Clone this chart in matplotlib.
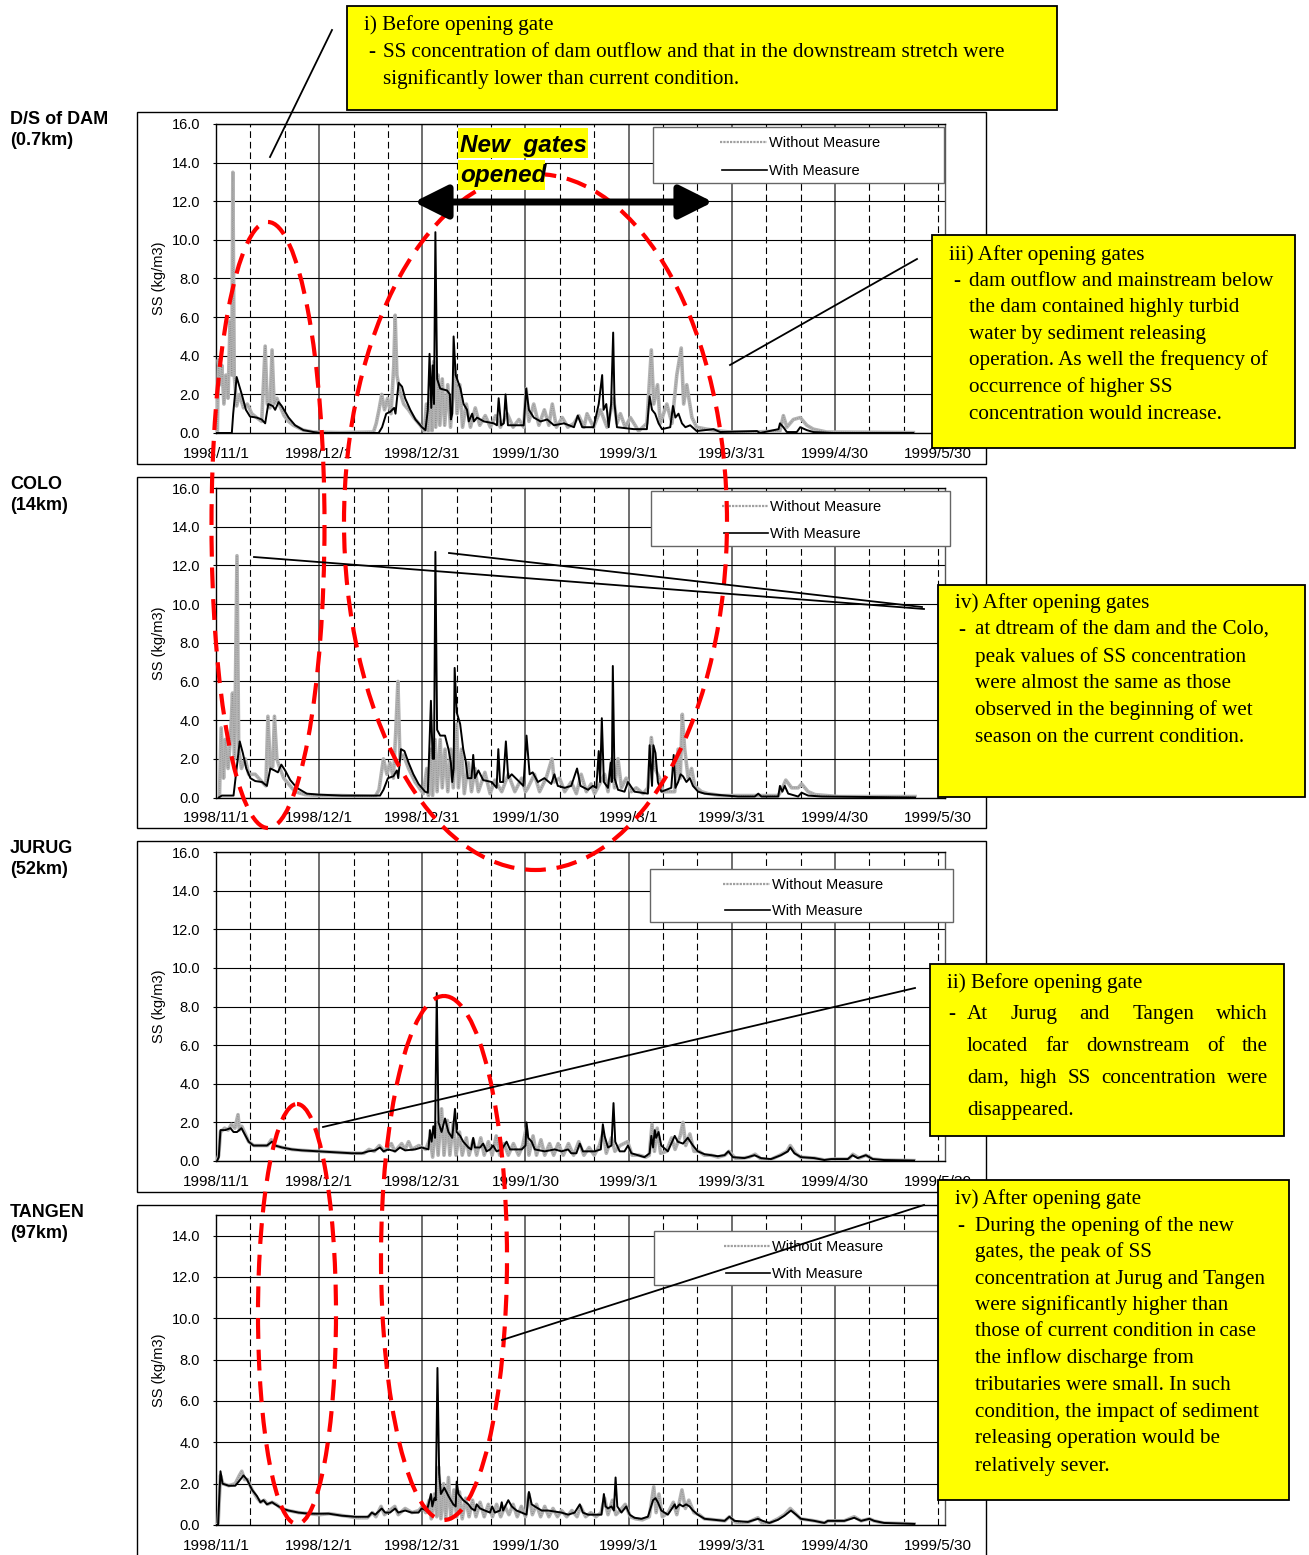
import matplotlib.pyplot as plt
from matplotlib.patches import Rectangle, Ellipse, FancyArrowPatch

plt.rcParams['font.family'] = ['Liberation Sans', 'DejaVu Sans']

# ---- data: (days since 1998/11/1, SS kg/m3) ----
tick_days = [0, 30, 60, 90, 120, 150, 180, 210]
tick_labels = ['1998/11/1', '1998/12/1', '1998/12/31', '1999/1/30',
               '1999/3/1', '1999/3/31', '1999/4/30', '1999/5/30']

dam_without = [
    (0.4, 0.0), (0.7, 3.8), (1.2, 2.5), (1.7, 3.5), (2.3, 1.5), (2.9, 3.0), (3.5, 1.8), (4.1, 5.8),
    (4.6, 3.0), (4.9, 13.5), (5.3, 3.0), (6.0, 1.4), (6.8, 2.0), (8.0, 1.3), (9.1, 1.5), (10.4, 1.0),
    (11.8, 0.8), (13.3, 0.6), (14.3, 4.5), (14.9, 1.5), (15.7, 1.3), (16.3, 4.3), (16.9, 1.5),
    (17.7, 1.8), (18.6, 1.4), (19.8, 0.9), (21.1, 0.6), (22.5, 0.4), (25.4, 0.15), (28.3, 0.05),
    (36.1, 0.02), (45.8, 0.05), (46.6, 0.5), (47.4, 1.2), (48.2, 2.0), (49.0, 1.2), (49.9, 1.8),
    (50.9, 1.0), (51.7, 3.5), (52.1, 6.1), (52.6, 3.0), (53.4, 2.2), (54.6, 1.5), (56.0, 1.2),
    (57.5, 0.8), (59.4, 0.4), (60.6, 0.1), (61.2, 1.5), (61.7, 0.1), (62.3, 2.0), (62.8, 0.1),
    (63.3, 3.7), (63.9, 0.3), (64.6, 3.0), (65.1, 0.4), (65.8, 2.8), (66.5, 0.4), (67.4, 2.5),
    (68.2, 0.3), (69.5, 3.5), (70.1, 1.0), (70.9, 2.5), (71.7, 0.3), (72.8, 1.5), (74.0, 0.3),
    (75.4, 1.3), (76.7, 0.4), (78.3, 0.9), (79.8, 0.3), (81.3, 0.9), (82.7, 0.3), (84.7, 1.0),
    (86.4, 0.3), (88.1, 0.7), (89.5, 0.3), (90.2, 2.3), (91.0, 0.6), (92.4, 1.5), (93.9, 0.4),
    (95.5, 1.2), (96.8, 0.4), (97.8, 1.5), (99.0, 0.3), (100.7, 0.8), (102.3, 0.3), (104.1, 0.5),
    (105.5, 0.9), (107.0, 0.3), (107.9, 1.0), (109.8, 0.3), (111.8, 1.2), (113.7, 0.3), (115.6, 1.8),
    (116.6, 0.5), (117.6, 1.0), (119.0, 0.3), (120.5, 0.8), (122.9, 0.1), (125.3, 0.5), (126.6, 4.3),
    (127.3, 1.5), (128.4, 2.5), (129.2, 0.5), (131.1, 1.5), (132.6, 0.5), (134.0, 3.0), (135.3, 4.4),
    (136.0, 1.5), (136.9, 2.5), (138.4, 0.8), (139.8, 0.3), (142.7, 0.2), (146.6, 0.1), (149.5, 0.05),
    (156.3, 0.05), (164.0, 0.1), (165.0, 0.9), (166.0, 0.3), (167.9, 0.7), (169.9, 0.8), (171.8, 0.4),
    (173.7, 0.2), (177.6, 0.05), (202.8, 0.02)]

dam_with = [
    (0.0, 0.0), (4.6, 0.0), (5.0, 1.0), (6.0, 2.9), (7.5, 2.0), (8.7, 1.2), (9.9, 0.85), (11.8, 0.8),
    (13.3, 0.7), (14.3, 0.5), (15.2, 1.5), (16.5, 1.4), (17.2, 1.2), (18.2, 1.6), (19.1, 1.4),
    (21.1, 0.8), (23.0, 0.4), (25.4, 0.15), (28.3, 0.05), (30.3, 0.0), (47.3, 0.0), (48.3, 0.3),
    (49.5, 1.0), (50.7, 1.1), (51.8, 1.3), (52.2, 1.0), (53.1, 2.6), (54.1, 2.4), (55.0, 1.8),
    (56.5, 1.2), (58.0, 0.7), (59.9, 0.3), (60.9, 0.15), (61.6, 1.2), (62.1, 4.1), (62.6, 1.3),
    (63.0, 3.5), (63.4, 1.5), (63.8, 10.4), (64.3, 2.8), (65.2, 2.3), (67.2, 2.2), (68.0, 2.0),
    (68.3, 0.7), (68.7, 1.0), (69.1, 5.0), (69.7, 3.0), (71.1, 2.3), (72.0, 1.5), (73.0, 1.2),
    (73.5, 0.6), (74.5, 1.0), (75.0, 0.6), (75.9, 0.8), (77.9, 0.6), (80.8, 0.5), (81.7, 0.4),
    (82.2, 1.8), (82.9, 0.4), (83.7, 0.5), (84.2, 2.0), (84.9, 0.4), (89.5, 0.4), (90.2, 2.3),
    (91.0, 1.2), (92.4, 0.8), (94.4, 0.6), (96.3, 0.7), (98.3, 0.4), (101.2, 0.5), (104.1, 0.3),
    (105.2, 0.9), (106.5, 0.3), (109.8, 0.3), (111.3, 1.5), (112.3, 3.0), (112.7, 1.2), (113.5, 1.5),
    (114.2, 0.3), (114.9, 1.5), (115.5, 5.2), (115.9, 1.5), (116.6, 0.3), (121.5, 0.2), (125.3, 0.2),
    (126.1, 1.9), (126.8, 1.2), (127.7, 1.0), (128.7, 0.5), (129.7, 0.2), (132.1, 0.3), (132.9, 1.4),
    (133.6, 0.8), (134.5, 1.0), (135.5, 0.5), (136.5, 0.3), (137.9, 0.4), (139.8, 0.1), (144.7, 0.2),
    (146.6, 0.05), (157.3, 0.1), (158.2, 0.0), (163.6, 0.2), (164.0, 0.5), (165.0, 0.3), (166.0, 0.05),
    (168.9, 0.05), (169.9, 0.3), (171.8, 0.15), (173.7, 0.05), (179.5, 0.0), (202.8, 0.0)]

colo_without = [
    (1.0, 0.0), (1.5, 3.6), (2.2, 1.0), (2.7, 3.0), (3.5, 1.5), (4.2, 3.0), (4.8, 5.4), (5.4, 2.0),
    (6.1, 12.5), (6.6, 2.5), (7.4, 1.5), (8.5, 2.0), (9.5, 1.2), (11.4, 1.2), (13.4, 0.8), (14.5, 0.6),
    (15.1, 4.2), (15.8, 1.5), (16.5, 1.6), (17.0, 4.2), (17.7, 2.0), (18.4, 1.6), (19.7, 1.0),
    (21.1, 0.7), (23.0, 0.3), (25.9, 0.15), (29.8, 0.1), (36.6, 0.1), (46.3, 0.05), (47.4, 0.4),
    (48.7, 2.0), (49.7, 1.2), (50.6, 1.8), (51.6, 1.0), (52.3, 3.5), (52.9, 6.0), (53.5, 2.0),
    (54.5, 2.2), (56.0, 1.5), (57.9, 0.8), (60.3, 0.2), (61.3, 1.5), (61.8, 0.1), (62.5, 2.5),
    (63.0, 0.1), (63.7, 3.0), (64.3, 0.3), (65.2, 3.0), (65.8, 0.5), (66.6, 2.5), (67.4, 0.3),
    (68.3, 2.5), (69.0, 0.5), (70.0, 3.8), (70.5, 0.5), (71.4, 2.5), (72.2, 0.2), (73.4, 1.8),
    (74.3, 0.3), (75.3, 1.5), (76.3, 0.3), (78.2, 1.3), (79.7, 0.2), (81.1, 0.9), (83.1, 0.3),
    (85.0, 1.2), (86.9, 0.3), (88.9, 1.0), (90.0, 0.3), (90.7, 0.5), (92.6, 1.2), (94.1, 0.3),
    (96.0, 1.0), (97.7, 2.0), (98.4, 0.8), (99.9, 1.0), (101.4, 0.3), (103.3, 0.8), (104.8, 0.2),
    (106.2, 1.2), (107.7, 0.3), (109.1, 0.7), (110.1, 0.2), (113.0, 1.2), (114.0, 0.3), (115.1, 2.0),
    (115.9, 0.5), (116.9, 2.0), (117.9, 0.5), (119.3, 1.0), (120.8, 0.3), (122.2, 0.5), (124.2, 0.2),
    (125.6, 0.5), (126.6, 3.1), (127.6, 1.5), (129.0, 1.0), (130.0, 0.3), (133.4, 0.3), (134.4, 2.5),
    (135.0, 1.0), (135.6, 4.3), (136.3, 2.5), (137.3, 1.0), (138.3, 1.5), (139.2, 0.6), (141.2, 0.3),
    (143.1, 0.2), (147.0, 0.1), (163.5, 0.1), (164.5, 0.4), (165.7, 0.9), (167.4, 0.5), (169.3, 0.5),
    (170.3, 0.7), (172.2, 0.3), (174.2, 0.15), (181.0, 0.05), (203.3, 0.05)]

colo_with = [
    (0.8, 0.0), (1.7, 0.1), (5.1, 0.1), (6.0, 1.5), (6.9, 2.9), (7.8, 2.3), (8.8, 1.5), (10.0, 1.0),
    (11.4, 0.85), (13.4, 0.8), (14.8, 0.6), (15.8, 1.5), (17.0, 1.4), (18.0, 1.3), (19.0, 1.7),
    (20.1, 1.4), (21.6, 0.9), (23.5, 0.5), (26.4, 0.2), (29.8, 0.15), (36.6, 0.1), (47.7, 0.1),
    (48.7, 0.4), (50.0, 1.0), (51.6, 1.1), (52.6, 1.4), (53.0, 1.0), (53.8, 2.5), (54.8, 2.4),
    (56.0, 1.8), (57.4, 1.2), (58.9, 0.7), (60.8, 0.3), (61.6, 0.25), (62.5, 5.0), (63.0, 2.0),
    (63.4, 2.0), (63.8, 12.7), (64.3, 3.5), (65.2, 3.2), (66.6, 3.2), (67.6, 2.5), (68.3, 1.8),
    (68.7, 0.8), (69.1, 1.5), (69.4, 6.7), (70.0, 4.4), (71.0, 3.8), (71.9, 2.5), (72.6, 1.9),
    (73.2, 1.0), (74.3, 1.0), (74.8, 2.2), (75.3, 1.0), (76.3, 1.4), (77.7, 0.9), (80.2, 0.8),
    (81.6, 0.5), (82.1, 2.5), (82.6, 0.8), (83.5, 0.8), (84.3, 2.9), (85.0, 1.0), (86.0, 1.2),
    (89.4, 0.6), (90.3, 3.2), (91.2, 1.2), (92.1, 1.3), (93.6, 0.8), (95.5, 1.0), (97.5, 0.7),
    (98.4, 1.2), (99.4, 0.6), (101.4, 0.5), (103.3, 0.6), (105.0, 1.5), (106.0, 0.6), (108.2, 0.4),
    (109.6, 0.6), (110.6, 0.5), (111.3, 2.4), (111.7, 0.8), (112.2, 4.1), (112.8, 0.8), (114.0, 0.5),
    (114.8, 1.8), (115.1, 0.8), (115.4, 6.8), (115.9, 1.0), (116.9, 0.4), (118.8, 0.3), (119.8, 0.8),
    (121.7, 0.3), (125.6, 0.2), (126.1, 2.7), (126.8, 0.6), (127.2, 2.7), (127.8, 2.3), (128.5, 0.8),
    (129.5, 0.3), (132.4, 0.5), (133.1, 2.2), (133.6, 0.5), (134.4, 0.8), (135.1, 1.2), (135.8, 1.1),
    (136.8, 0.8), (137.8, 1.0), (138.7, 0.6), (140.2, 0.3), (142.1, 0.2), (145.0, 0.15), (151.8, 0.05),
    (156.7, 0.05), (157.7, 0.2), (158.6, 0.05), (163.5, 0.05), (164.0, 0.6), (164.7, 0.3), (165.4, 0.6),
    (166.4, 0.2), (169.3, 0.05), (170.3, 0.25), (172.2, 0.1), (176.1, 0.05), (203.3, 0.0)]

jurug_without = [
    (0.3, 0.0), (0.8, 0.3), (1.3, 1.5), (2.5, 1.7), (3.5, 1.6), (4.5, 1.9), (5.5, 1.7), (6.4, 2.4),
    (6.8, 1.6), (7.5, 1.8), (8.5, 1.4), (9.5, 1.0), (11.0, 0.8), (13.0, 0.8), (15.0, 0.8), (16.1, 1.1),
    (17.2, 0.8), (19.2, 0.7), (22.0, 0.6), (25.0, 0.55), (30.0, 0.5), (35.0, 0.45), (40.0, 0.4),
    (43.0, 0.4), (44.5, 0.6), (46.0, 0.5), (47.5, 0.8), (49.0, 0.5), (51.0, 0.9), (52.0, 0.5),
    (54.0, 0.9), (55.0, 0.6), (56.0, 1.0), (57.0, 0.6), (59.0, 0.8), (61.0, 0.6), (62.3, 1.2),
    (63.0, 0.2), (64.0, 2.0), (64.6, 0.3), (65.6, 2.7), (66.3, 0.3), (67.3, 2.1), (68.0, 0.3),
    (69.0, 2.0), (69.8, 0.3), (70.8, 1.5), (71.6, 0.3), (72.8, 1.2), (73.6, 0.3), (74.8, 1.1),
    (75.8, 0.3), (77.0, 1.2), (78.0, 0.3), (79.2, 1.0), (80.3, 0.3), (81.5, 1.3), (82.5, 0.3),
    (83.8, 0.9), (85.0, 0.3), (86.5, 0.9), (88.0, 0.3), (89.2, 0.8), (90.2, 1.7), (91.0, 0.3),
    (92.2, 1.3), (93.2, 0.3), (94.5, 1.1), (95.6, 0.3), (97.0, 0.9), (98.2, 0.3), (99.5, 0.9),
    (101.0, 0.3), (102.5, 0.9), (104.0, 0.3), (105.5, 1.0), (107.0, 0.3), (108.5, 0.7), (110.0, 0.3),
    (111.5, 0.8), (112.6, 1.5), (113.5, 0.4), (115.0, 1.2), (116.0, 0.5), (117.5, 0.8), (119.7, 1.0),
    (121.0, 0.3), (123.0, 0.3), (125.0, 0.2), (126.0, 0.3), (126.8, 1.9), (127.5, 0.5), (128.3, 1.7),
    (129.3, 0.4), (131.0, 0.5), (132.5, 1.2), (133.5, 0.6), (135.0, 1.3), (135.8, 2.0), (136.6, 0.8),
    (137.8, 1.4), (139.0, 0.5), (140.5, 0.5), (142.0, 0.3), (144.0, 0.3), (146.0, 0.2), (148.0, 0.3),
    (149.2, 0.5), (151.0, 0.15), (153.0, 0.15), (155.0, 0.2), (156.8, 0.35), (158.5, 0.1), (161.0, 0.05),
    (164.0, 0.3), (166.0, 0.5), (167.0, 0.8), (168.5, 0.4), (170.0, 0.2), (174.0, 0.15), (177.0, 0.05),
    (180.0, 0.1), (184.0, 0.1), (185.2, 0.35), (187.0, 0.15), (189.0, 0.3), (191.0, 0.1), (194.0, 0.05),
    (203.0, 0.02)]

jurug_with = [
    (0.3, 0.0), (0.8, 0.2), (1.3, 1.6), (2.7, 1.6), (4.2, 1.7), (5.1, 1.5), (6.1, 1.5), (7.4, 1.7),
    (8.3, 1.4), (9.5, 1.0), (10.9, 0.8), (12.9, 0.8), (14.8, 0.8), (16.3, 1.0), (17.2, 0.8), (19.2, 0.7),
    (22.1, 0.6), (25.0, 0.55), (29.8, 0.5), (34.7, 0.45), (39.5, 0.4), (42.4, 0.4), (44.3, 0.5),
    (46.3, 0.55), (47.7, 0.7), (48.7, 0.5), (50.1, 0.6), (52.1, 0.5), (53.5, 0.7), (55.0, 0.55),
    (57.9, 0.6), (59.8, 0.7), (61.8, 0.6), (62.2, 1.6), (62.7, 1.0), (63.2, 1.8), (63.7, 1.2),
    (64.2, 8.7), (64.7, 2.0), (65.6, 1.5), (66.6, 2.2), (67.6, 1.5), (68.7, 1.2), (69.5, 2.7),
    (70.0, 1.5), (71.0, 1.3), (71.9, 1.0), (73.4, 0.7), (74.2, 0.6), (74.8, 1.2), (75.3, 0.7),
    (76.8, 0.7), (77.7, 0.9), (78.7, 0.5), (79.7, 0.6), (80.6, 0.8), (81.6, 0.5), (83.1, 0.6),
    (84.5, 1.0), (85.5, 0.6), (87.4, 0.6), (88.9, 0.6), (90.0, 0.8), (90.3, 2.0), (90.8, 1.2),
    (91.8, 1.0), (92.7, 0.6), (95.6, 0.5), (98.5, 0.6), (100.5, 0.5), (102.4, 0.6), (103.3, 0.4),
    (104.8, 0.4), (105.8, 0.9), (106.7, 0.5), (108.2, 0.5), (110.1, 0.5), (111.9, 0.6), (112.5, 1.9),
    (113.0, 1.3), (114.0, 0.7), (115.0, 0.8), (115.6, 3.0), (116.1, 1.0), (117.4, 0.5), (118.8, 0.5),
    (119.8, 0.8), (120.8, 0.4), (122.7, 0.3), (124.6, 0.2), (126.1, 0.4), (126.6, 1.3), (127.1, 0.7),
    (127.6, 1.6), (128.0, 1.2), (128.7, 1.5), (129.5, 0.8), (131.4, 0.5), (133.4, 1.3), (134.3, 1.0),
    (135.8, 0.9), (137.2, 1.2), (138.7, 0.8), (140.1, 0.5), (142.1, 0.35), (145.9, 0.25), (147.9, 0.3),
    (149.0, 0.5), (150.3, 0.2), (153.7, 0.15), (156.6, 0.3), (158.5, 0.15), (161.4, 0.1), (164.3, 0.3),
    (166.3, 0.5), (167.0, 0.7), (168.2, 0.4), (170.1, 0.2), (174.0, 0.15), (176.9, 0.05), (178.9, 0.1),
    (183.7, 0.1), (185.1, 0.3), (186.6, 0.15), (189.0, 0.3), (191.0, 0.1), (194.3, 0.05), (203.0, 0.02)]

tangen_without = [
    (0.0, 0.0), (0.6, 0.0), (1.3, 2.4), (2.0, 2.0), (3.7, 1.9), (5.6, 2.0), (6.8, 2.4), (7.5, 2.6),
    (8.3, 2.2), (9.2, 2.2), (10.5, 1.7), (12.0, 1.3), (13.0, 1.1), (14.0, 1.2), (15.0, 1.0), (16.3, 1.1),
    (17.5, 1.0), (19.0, 0.8), (21.0, 0.7), (24.0, 0.6), (27.0, 0.55), (30.0, 0.5), (33.0, 0.55),
    (37.0, 0.45), (41.0, 0.35), (44.0, 0.35), (45.5, 0.6), (46.5, 0.4), (48.0, 0.9), (49.0, 0.5),
    (50.5, 0.7), (52.0, 0.9), (53.0, 0.5), (55.0, 0.8), (57.0, 0.6), (59.0, 0.7), (60.0, 0.9),
    (61.0, 0.6), (62.0, 1.2), (62.6, 0.3), (63.5, 1.5), (64.2, 0.4), (64.8, 2.8), (65.4, 0.3),
    (66.2, 2.0), (66.8, 0.3), (67.6, 2.3), (68.3, 0.3), (69.2, 1.7), (70.0, 0.4), (70.8, 1.6),
    (71.6, 0.3), (72.6, 1.3), (73.6, 0.4), (74.6, 1.2), (75.6, 0.4), (76.8, 1.1), (78.0, 0.4),
    (79.2, 1.0), (80.4, 0.4), (81.6, 1.0), (82.8, 0.4), (84.0, 0.9), (85.2, 0.5), (86.4, 1.0),
    (87.6, 0.4), (88.8, 0.9), (90.0, 0.4), (91.0, 1.5), (92.0, 0.5), (93.2, 1.0), (94.4, 0.4),
    (95.6, 0.9), (96.8, 0.4), (98.0, 0.8), (99.3, 0.4), (100.5, 0.7), (102.0, 0.4), (103.5, 0.7),
    (105.0, 0.4), (106.0, 0.9), (107.5, 0.4), (109.0, 0.6), (110.5, 0.4), (112.0, 0.6), (113.0, 1.3),
    (114.0, 0.5), (115.3, 1.2), (116.3, 0.5), (117.5, 0.7), (119.0, 1.0), (120.5, 0.4), (122.0, 0.3),
    (124.0, 0.25), (126.0, 0.4), (127.3, 1.85), (128.0, 0.6), (128.8, 1.5), (129.8, 0.4), (131.5, 0.6),
    (133.0, 1.1), (134.0, 0.5), (135.5, 1.7), (136.5, 0.8), (137.5, 1.2), (139.0, 0.6), (140.5, 0.5),
    (142.0, 0.3), (145.0, 0.25), (148.0, 0.2), (149.3, 0.4), (151.0, 0.15), (153.0, 0.1), (155.0, 0.15),
    (157.6, 0.35), (159.0, 0.05), (161.0, 0.1), (163.4, 0.3), (165.3, 0.5), (167.0, 0.8), (168.8, 0.5),
    (170.0, 0.3), (174.0, 0.2), (177.0, 0.1), (178.0, 0.2), (182.7, 0.2), (185.6, 0.4), (187.6, 0.2),
    (190.0, 0.3), (191.4, 0.2), (194.0, 0.1), (203.0, 0.05)]

tangen_with = [
    (0.0, 0.0), (0.6, 0.0), (1.3, 2.6), (1.9, 2.0), (3.7, 1.9), (5.6, 1.9), (6.6, 2.1), (8.0, 2.4),
    (9.0, 2.2), (10.5, 1.7), (11.9, 1.4), (12.9, 1.1), (13.8, 1.2), (14.8, 1.0), (16.3, 1.1), (17.2, 1.0),
    (19.2, 0.8), (21.1, 0.7), (24.0, 0.6), (26.9, 0.55), (29.8, 0.55), (32.7, 0.55), (36.6, 0.45),
    (40.5, 0.4), (44.3, 0.4), (45.3, 0.6), (46.3, 0.5), (48.2, 0.8), (49.2, 0.6), (50.6, 0.6),
    (52.1, 0.8), (53.0, 0.6), (55.0, 0.7), (56.9, 0.6), (58.9, 0.6), (59.8, 0.8), (61.3, 0.7),
    (61.8, 1.0), (62.5, 1.5), (62.9, 0.9), (63.5, 1.3), (63.9, 1.2), (64.4, 7.6), (64.9, 2.5),
    (65.4, 1.5), (66.4, 1.8), (67.6, 1.4), (69.0, 1.0), (69.7, 0.9), (70.0, 2.1), (70.5, 1.5),
    (71.9, 1.2), (73.4, 1.0), (74.3, 0.8), (75.3, 0.7), (75.8, 1.0), (76.8, 0.8), (78.2, 0.7),
    (79.7, 0.6), (80.3, 0.9), (81.1, 0.6), (82.6, 0.7), (83.1, 1.1), (83.5, 0.7), (85.0, 1.2),
    (86.0, 0.9), (87.4, 0.7), (88.9, 0.6), (90.3, 0.5), (91.0, 1.6), (91.8, 1.0), (92.7, 0.9),
    (94.7, 0.7), (96.6, 0.7), (100.5, 0.6), (102.4, 0.5), (104.3, 0.6), (105.8, 1.0), (106.7, 0.6),
    (108.2, 0.5), (110.1, 0.5), (112.1, 0.5), (112.8, 1.5), (113.3, 0.9), (114.0, 0.8), (115.0, 0.9),
    (115.7, 0.7), (116.2, 2.3), (116.7, 0.9), (117.9, 0.6), (119.3, 0.9), (120.3, 0.5), (121.7, 0.35),
    (123.7, 0.3), (125.6, 0.4), (127.1, 1.2), (127.8, 1.3), (128.5, 1.1), (129.5, 0.7), (131.4, 0.5),
    (133.4, 1.0), (133.8, 0.8), (134.8, 1.0), (135.8, 0.9), (136.7, 1.0), (137.7, 0.9), (138.7, 0.7),
    (140.1, 0.5), (142.1, 0.3), (145.0, 0.25), (147.9, 0.2), (149.3, 0.4), (150.8, 0.2), (154.7, 0.15),
    (157.6, 0.3), (159.0, 0.2), (160.9, 0.1), (163.4, 0.25), (165.3, 0.45), (167.2, 0.7), (168.7, 0.5),
    (170.1, 0.3), (174.0, 0.2), (176.9, 0.1), (177.9, 0.2), (182.7, 0.2), (185.6, 0.35), (187.6, 0.2),
    (190.0, 0.3), (191.4, 0.2), (194.3, 0.1), (203.1, 0.05)]

W, H = 1309, 1555
fig = plt.figure(figsize=(W / 100, H / 100), dpi=100)

# panel layout in pixels: (station label, plot top, plot bottom, ymax, frame top, frame bottom)
panels = [
    (('D/S of DAM', '(0.7km)'), 124, 433, 16, 112, 464, dam_without, dam_with),
    (('COLO', '(14km)'), 488, 797.5, 16, 477, 828, colo_without, colo_with),
    (('JURUG', '(52km)'), 852, 1161, 16, 841, 1192, jurug_without, jurug_with),
    (('TANGEN', '(97km)'), 1215, 1525, 15, 1205, 1562, tangen_without, tangen_with),
]

solid_days = [30, 60, 90, 120, 150, 180]
dash_days = [10, 20, 40, 50, 70, 80, 100, 110, 130, 140, 160, 170, 190, 200, 210]

for lab, top, bot, ymax, ftop, fbot, wo, w in panels:
    ax = fig.add_axes([216 / W, 1 - bot / H, (945 - 216) / W, (bot - top) / H])
    d, v = zip(*wo)
    ax.plot(d, v, color='#b3b3b3', lw=2.6, zorder=3)
    ax.plot(d, v, color='#8c8c8c', lw=0.8, ls=(0, (0.6, 1.4)), zorder=3)
    d, v = zip(*w)
    ax.plot(d, v, color='black', lw=1.4, zorder=4)
    ax.set_xlim(0, 212)
    ax.set_ylim(0, ymax)
    yt = list(range(0, 17 if ymax == 16 else 15, 2))
    ax.set_yticks(yt)
    ax.set_yticklabels(['%.1f' % t for t in yt], fontsize=10.5)
    ax.set_xticks(tick_days)
    ax.set_xticklabels(tick_labels, fontsize=11)
    ax.tick_params(axis='x', length=0, pad=10)
    ax.tick_params(axis='y', length=2.5, width=0.8, pad=9)
    ax.grid(axis='y', color='black', lw=0.8)
    for dd in solid_days:
        ax.axvline(dd, color='#555555', lw=1.2, zorder=1)
    for dd in dash_days:
        ax.axvline(dd, color='black', lw=0.8, ls=(0, (6, 3.5)), zorder=1)
    for s in ax.spines.values():
        s.set_linewidth(1.0)
    ax.spines['right'].set_color('#555555')
    ax.set_ylabel('SS (kg/m3)', fontsize=10.5)
    ax.yaxis.set_label_coords(-0.068, 0.5)

# overlay in pixel coordinates for frames, callouts and notes
ov = fig.add_axes([0, 0, 1, 1], zorder=10)
ov.set_xlim(0, W)
ov.set_ylim(H, 0)
ov.axis('off')
ov.patch.set_alpha(0)

for lab, top, bot, ymax, ftop, fbot, wo, w in panels:
    ov.add_patch(Rectangle((137, ftop), 986 - 137, fbot - ftop, fill=False, ec='black', lw=1.0, zorder=1))
    ov.text(10, ftop + 12, lab[0], fontsize=13, fontweight='bold', va='baseline')
    ov.text(10, ftop + 33, lab[1], fontsize=13, fontweight='bold', va='baseline')

# legends
legends = [(653, 127, 944, 183, 142, 170, 720, 769),
           (651, 491, 950, 546, 506, 533, 722, 770),
           (650, 869, 953, 922, 884, 910, 723, 772),
           (654, 1231, 952, 1285, 1246, 1273, 724, 772)]
for x0, y0, x1, y1, ya, yb, sx, tx in legends:
    ov.add_patch(Rectangle((x0, y0), x1 - x0, y1 - y0, fc='white', ec='#666666', lw=1.0, zorder=2))
    ov.plot([sx, tx - 2], [ya, ya], color='#a0a0a0', lw=1.6, ls=(0, (1, 0.5)), zorder=2.5)
    ov.plot([sx + 2, tx - 2], [yb, yb], color='black', lw=1.2, zorder=2.5)
    ov.text(tx, ya + 5, 'Without Measure', fontsize=10.5, va='baseline', zorder=2.5)
    ov.text(tx, yb + 5, 'With Measure', fontsize=10.5, va='baseline', zorder=2.5)

# red dashed ellipses
red_ellipses = [(268, 525, 113, 606), (535.5, 522, 383, 696), (297, 1314, 78, 420), (444, 1258, 126, 524)]
for cx, cy, ew, eh in red_ellipses:
    ov.add_patch(Ellipse((cx, cy), ew, eh, fill=False, ec='#ff0000', lw=3.0,
                         ls=(0, (5, 2.6)), zorder=3))

# pointer lines
pointers = [((332, 30), (270, 157)), ((730, 365), (917, 259)), ((254, 557), (924, 609)),
            ((449, 553), (922, 607)), ((323, 1127), (915, 988)), ((502, 1340), (924, 1205))]
for (xa, ya), (xb, yb) in pointers:
    ov.plot([xa, xb], [ya, yb], color='black', lw=1.3, zorder=4)

# gate-opening period arrow
ov.add_patch(FancyArrowPatch((414, 202), (713, 202), arrowstyle='<|-|>,head_length=1.7,head_width=0.85',
                             mutation_scale=12, lw=5, color='black', shrinkA=0, shrinkB=0, zorder=4))

ov.add_patch(Rectangle((458, 128), 130, 30, fc='#ffff00', ec='none', zorder=5))
ov.add_patch(Rectangle((458, 160), 87, 30, fc='#ffff00', ec='none', zorder=5))
ov.text(460, 152, 'New  gates', fontsize=17.5, fontweight='bold', style='italic', va='baseline', zorder=6)
ov.text(460, 182, 'opened', fontsize=17.5, fontweight='bold', style='italic', va='baseline', zorder=6)

# yellow note boxes
serif = 'Liberation Serif'
fs = 15.2
boxes = [(347, 6, 1057, 110), (932, 235, 1295, 448), (938, 585, 1305, 797),
         (930, 964, 1284, 1136), (938, 1180, 1289, 1500)]
for x0, y0, x1, y1 in boxes:
    ov.add_patch(Rectangle((x0, y0), x1 - x0, y1 - y0, fc='#ffff00', ec='black', lw=1.3, zorder=7))


def note(x, y, s, **kw):
    return ov.text(x, y + 6, s, fontsize=fs, family=serif, va='baseline', zorder=8, **kw)


note(364, 24, 'i) Before opening gate')
note(368, 51, '-')
note(383, 51, 'SS concentration of dam outflow and that in the downstream stretch were')
note(383, 78, 'significantly lower than current condition.')

note(949, 254, 'iii) After opening gates')
note(953, 280, '-')
for y, s in zip([280, 306, 333, 359, 386, 413],
                ['dam outflow and mainstream below', 'the dam contained highly turbid',
                 'water by sediment releasing', 'operation. As well the frequency of',
                 'occurrence of higher SS', 'concentration would increase.']):
    note(969, y, s)

note(955, 602, 'iv) After opening gates')
note(958, 629, '-')
for y, s in zip([629, 656, 682, 709, 736],
                ['at dtream of the dam and the Colo,', 'peak values of SS concentration',
                 'were almost the same as those', 'observed in the beginning of wet',
                 'season on the current condition.']):
    note(975, y, s)

# box ii is typeset justified between x=967 and x=1268
note(947, 982, 'ii) Before opening gate')
note(948, 1013, '-')
renderer = fig.canvas.get_renderer()
justified = [(1013, ['At', 'Jurug', 'and', 'Tangen', 'which']),
             (1045, ['located', 'far', 'downstream', 'of', 'the']),
             (1077, ['dam,', 'high', 'SS', 'concentration', 'were'])]
for y, words in justified:
    txts = [note(0, y, s) for s in words]
    widths = [t.get_window_extent(renderer).width for t in txts]
    gap = (1268 - 967 - sum(widths)) / (len(words) - 1)
    x = 967
    for t, wd in zip(txts, widths):
        t.set_x(x)
        x += wd + gap
note(967, 1109, 'disappeared.')

note(955, 1198, 'iv) After opening gate')
note(957, 1225, '-', fontweight='bold')
for y, s in zip([1225, 1251, 1278, 1304, 1330, 1357, 1384, 1411, 1437, 1465],
                ['During the opening of the new', 'gates, the peak of SS',
                 'concentration at Jurug and Tangen', 'were significantly higher than',
                 'those of current condition in case', 'the inflow discharge from',
                 'tributaries were small. In such', 'condition, the impact of sediment',
                 'releasing operation would be', 'relatively sever.']):
    note(975, y, s)

fig.savefig('out.png', dpi=100)
